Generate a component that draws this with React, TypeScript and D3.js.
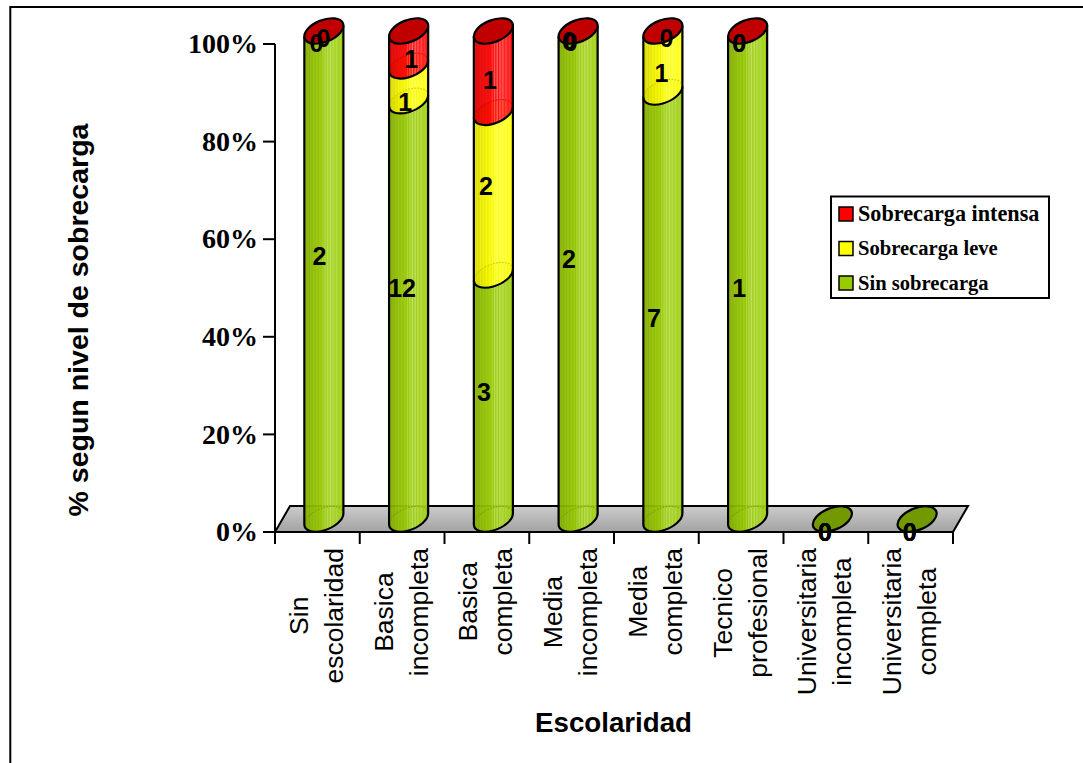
import React from "react";
import * as d3 from "d3";

// Counts per schooling level, stacked to 100%
const categories = [
  ["Sin", "escolaridad"],
  ["Basica", "incompleta"],
  ["Basica", "completa"],
  ["Media", "incompleta"],
  ["Media", "completa"],
  ["Tecnico", "profesional"],
  ["Universitaria", "incompleta"],
  ["Universitaria", "completa"],
];
const sinSobrecarga = [2, 12, 3, 2, 7, 1, 0, 0];
const sobrecargaLeve = [0, 1, 2, 0, 1, 0, 0, 0];
const sobrecargaIntensa = [0, 1, 1, 0, 0, 0, 0, 0];
const percentTicks = [0, 20, 40, 60, 80, 100];
const seriesNames = ["Sin sobrecarga", "Sobrecarga leve", "Sobrecarga intensa"];
const seriesColors = ["#99cc00", "#ffff00", "#ff0000"];
const capColors = ["#739900", "#bfbf00", "#c00000"];

// Hand placement of the value labels, in pixels from each segment's middle
const labelShiftX = [
  [2, 0, -3, -2.6, -2.4, -2, -1, -1],
  [-1, 3, -1, -2.6, 5, -2, -1, -1],
  [6, 9, 3, -1, 10, -2, -1, -1],
];
const labelShiftY = [
  [-32, -35, -18, -29, 0, 0, 0, 0],
  [-1, 6, -20, -3, -1.5, -1, 0, 0],
  [-6, -2, -4.5, -2, -6, -1, 0, 0],
];
const legendFontSizes = [20.6, 20.6, 22.2];

const plotLeft = 275;
const plotRight = 953;
const plotBottom = 532;
const plotTop = 44;
const depthX = 15;
const depthY = 26;
const tilt = 22;
const rx = 20.6;
const ry = 10.9;
const serif = "'Liberation Serif', serif";
const sans = "'Liberation Sans', sans-serif";
const categoryFont = `26.5px ${sans}`;

const xScale = d3.scaleBand<number>().domain(d3.range(categories.length)).range([plotLeft, plotRight]);
const yScale = d3.scaleLinear().domain([0, 100]).range([plotBottom, plotTop]);

// Ellipse centre height for a stacked percentage: half way into the floor depth
const ellipseY = (p: number) => yScale(p) - depthY / 2;
const bandCx = (i: number) => xScale(i)! + xScale.bandwidth() / 2;
const barCx = (i: number) => bandCx(i) + depthX / 2 - 1;

// Extreme left/right points of the tilted ellipse define the cylinder's sides
const sinT = Math.sin((tilt * Math.PI) / 180);
const cosT = Math.cos((tilt * Math.PI) / 180);
const halfW = Math.sqrt(rx * rx * cosT * cosT + ry * ry * sinT * sinT);
const sideDy = ((rx * rx - ry * ry) * sinT * cosT) / halfW;

// Front half runs counter-clockwise on screen, back half clockwise
const frontArc = (cx: number, cy: number) => `A${rx},${ry} ${-tilt} 0 0 ${cx + halfW},${cy - sideDy}`;
const backArc = (cx: number, cy: number) => `A${rx},${ry} ${-tilt} 0 1 ${cx + halfW},${cy - sideDy}`;
const backArcReverse = (cx: number, cy: number) => `A${rx},${ry} ${-tilt} 0 0 ${cx - halfW},${cy + sideDy}`;

function segmentPath(cx: number, yLow: number, yHigh: number) {
  const l = cx - halfW;
  const r = cx + halfW;
  return `M${l},${yHigh + sideDy} L${l},${yLow + sideDy} ${frontArc(cx, yLow)} L${r},${yHigh - sideDy} ${backArcReverse(cx, yHigh)} Z`;
}

// Striped horizontal shading across the cylinder face
const shadeStops: [number, number][] = [
  [0, 0.82], [0.03, 0.92], [0.06, 0.85], [0.1, 0.9], [0.13, 0.85], [0.17, 0.94], [0.2, 0.88], [0.24, 0.96],
  [0.28, 0.9], [0.32, 0.98], [0.36, 0.92], [0.4, 1.0], [0.44, 0.94], [0.47, 1.06], [0.5, 0.96], [0.53, 1.1],
  [0.56, 1.0], [0.6, 1.12], [0.63, 1.0], [0.67, 1.12], [0.7, 1.02], [0.74, 1.1], [0.78, 1.02], [0.82, 1.08],
  [0.87, 1.02], [0.92, 1.05], [0.96, 1.0], [1, 0.94],
];

function shade(color: string, k: number) {
  const c = d3.rgb(color);
  if (k <= 1) return d3.rgb(c.r * k, c.g * k, c.b * k).formatHex();
  return d3.interpolateRgb(color, "#ffffff")((k - 1) * 3);
}

function measureWidth(text: string) {
  const ctx = document.createElement("canvas").getContext("2d")!;
  ctx.font = categoryFont;
  return ctx.measureText(text).width;
}

function Cylinder({ index }: { index: number }) {
  const cx = barCx(index);
  const values = [sinSobrecarga[index], sobrecargaLeve[index], sobrecargaIntensa[index]];
  const total = d3.sum(values);
  if (total === 0) {
    const cy = ellipseY(0);
    return (
      <ellipse cx={cx} cy={cy} rx={rx} ry={ry} transform={`rotate(${-tilt} ${cx} ${cy})`} fill={capColors[0]} stroke="#000" strokeWidth={2.2} />
    );
  }
  let acc = 0;
  const segs = values.map((v, s) => {
    const from = (acc / total) * 100;
    acc += v;
    return { s, v, from, to: (acc / total) * 100 };
  });
  const visible = segs.filter((d) => d.v > 0);
  const topY = ellipseY(100);
  const baseY = ellipseY(0);
  return (
    <g>
      {visible.map((d) => (
        <path key={d.s} d={segmentPath(cx, ellipseY(d.from), ellipseY(d.to))} fill={`url(#face-${d.s})`} fillOpacity={0.94} />
      ))}
      {/* Back edges of each section, seen faintly through the face */}
      {visible.map((d) => (
        <path
          key={`b${d.s}`}
          d={`M${cx - halfW},${ellipseY(d.from) + sideDy} ${backArc(cx, ellipseY(d.from))}`}
          fill="none"
          stroke={capColors[d.s]}
          strokeWidth={1.2}
          strokeDasharray="1.5 1.5"
          opacity={0.75}
        />
      ))}
      {visible.slice(0, -1).map((d) => (
        <path
          key={`l${d.s}`}
          d={`M${cx - halfW},${ellipseY(d.to) + sideDy} ${frontArc(cx, ellipseY(d.to))}`}
          fill="none"
          stroke="#000"
          strokeWidth={2.2}
        />
      ))}
      <path
        d={`M${cx - halfW},${topY + sideDy} L${cx - halfW},${baseY + sideDy} ${frontArc(cx, baseY)} L${cx + halfW},${topY - sideDy}`}
        fill="none"
        stroke="#000"
        strokeWidth={2.2}
      />
      {/* The empty top series still closes the column with its own cap colour */}
      <ellipse cx={cx} cy={topY} rx={rx} ry={ry} transform={`rotate(${-tilt} ${cx} ${topY})`} fill={capColors[2]} stroke="#000" strokeWidth={2.2} />
    </g>
  );
}

function DataLabels({ index }: { index: number }) {
  const values = [sinSobrecarga[index], sobrecargaLeve[index], sobrecargaIntensa[index]];
  const total = d3.sum(values);
  let acc = 0;
  return (
    <g>
      {values.map((v, s) => {
        const from = total ? (acc / total) * 100 : 0;
        acc += v;
        const to = total ? (acc / total) * 100 : 0;
        const x = bandCx(index) + labelShiftX[s][index];
        const y = yScale((from + to) / 2) + labelShiftY[s][index];
        return (
          <text key={s} x={x} y={y} dy="0.35em" textAnchor="middle" fontFamily={sans} fontWeight="bold" fontSize={25}>
            {v}
          </text>
        );
      })}
    </g>
  );
}

export default function App() {
  const floor = `M${plotLeft},${plotBottom} L${plotLeft + depthX},${plotBottom - depthY} L${plotRight + depthX},${plotBottom - depthY} L${plotRight},${plotBottom} Z`;
  const legendItems = [2, 1, 0];
  return (
    <svg width={1083} height={763} style={{ position: "absolute", left: 0, top: 0, background: "#fff" }}>
      <defs>
        <linearGradient id="floor-fill" x1="0" y1="0" x2="0" y2="1">
          <stop offset="0" stopColor="#cccccc" />
          <stop offset="1" stopColor="#a2a2a2" />
        </linearGradient>
        {seriesColors.map((c, s) => (
          <linearGradient key={s} id={`face-${s}`} x1="0" y1="0" x2="1" y2="0">
            {shadeStops.map(([o, k], i) => (
              <stop key={i} offset={o} stopColor={shade(c, k)} />
            ))}
          </linearGradient>
        ))}
      </defs>

      {/* Outer frame, open on the right and at the bottom */}
      <path d="M10.3,763 V7 H1083" fill="none" stroke="#000" strokeWidth={2} />

      <path d={floor} fill="url(#floor-fill)" stroke="#000" strokeWidth={2} />

      {/* Value axis */}
      <line x1={plotLeft} x2={plotLeft} y1={plotTop} y2={plotBottom} stroke="#000" strokeWidth={2} />
      {percentTicks.map((t) => (
        <g key={t}>
          <line x1={plotLeft - 12} x2={plotLeft} y1={yScale(t)} y2={yScale(t)} stroke="#000" strokeWidth={2} />
          <text x={258} y={yScale(t)} dy="0.33em" textAnchor="end" fontFamily={serif} fontWeight="bold" fontSize={28}>
            {t}%
          </text>
        </g>
      ))}

      {/* Category axis */}
      <line x1={plotLeft - 12} x2={plotRight} y1={plotBottom} y2={plotBottom} stroke="#000" strokeWidth={2} />
      {d3.range(categories.length + 1).map((i) => {
        const x = plotLeft + i * xScale.step();
        return <line key={i} x1={x} x2={x} y1={plotBottom} y2={plotBottom + 12} stroke="#000" strokeWidth={2} />;
      })}
      {categories.map((lines, i) => {
        // Both lines centre on the longer one, which hangs just below the axis
        const longest = Math.max(measureWidth(lines[0]), measureWidth(lines[1]));
        const centreY = 548 + longest / 2;
        return (
          <g key={i} transform={`translate(${bandCx(i)},${centreY}) rotate(-90)`} fontFamily={sans} fontSize={26.5} textAnchor="middle">
            <text x={0} y={-9.5}>{lines[0]}</text>
            <text x={0} y={25.5}>{lines[1]}</text>
          </g>
        );
      })}

      {d3.range(categories.length).map((i) => (
        <Cylinder key={i} index={i} />
      ))}
      {d3.range(categories.length).map((i) => (
        <DataLabels key={i} index={i} />
      ))}

      <text transform="translate(88,320) rotate(-90)" textAnchor="middle" fontFamily={sans} fontWeight="bold" fontSize={28.5}>
        % segun nivel de sobrecarga
      </text>
      <text x={613.5} y={732} textAnchor="middle" fontFamily={sans} fontWeight="bold" fontSize={27.7}>
        Escolaridad
      </text>

      {/* Legend */}
      <rect x={831} y={196.5} width={218} height={101.5} fill="#fff" stroke="#000" strokeWidth={2} />
      {legendItems.map((s, row) => {
        const y = 214 + row * 34.5;
        return (
          <g key={s}>
            <rect x={839} y={y - 7} width={14} height={14} fill={seriesColors[s]} stroke="#000" strokeWidth={1.5} />
            <text x={858} y={y} dy="0.33em" fontFamily={serif} fontWeight="bold" fontSize={legendFontSizes[s]}>
              {seriesNames[s]}
            </text>
          </g>
        );
      })}
    </svg>
  );
}
